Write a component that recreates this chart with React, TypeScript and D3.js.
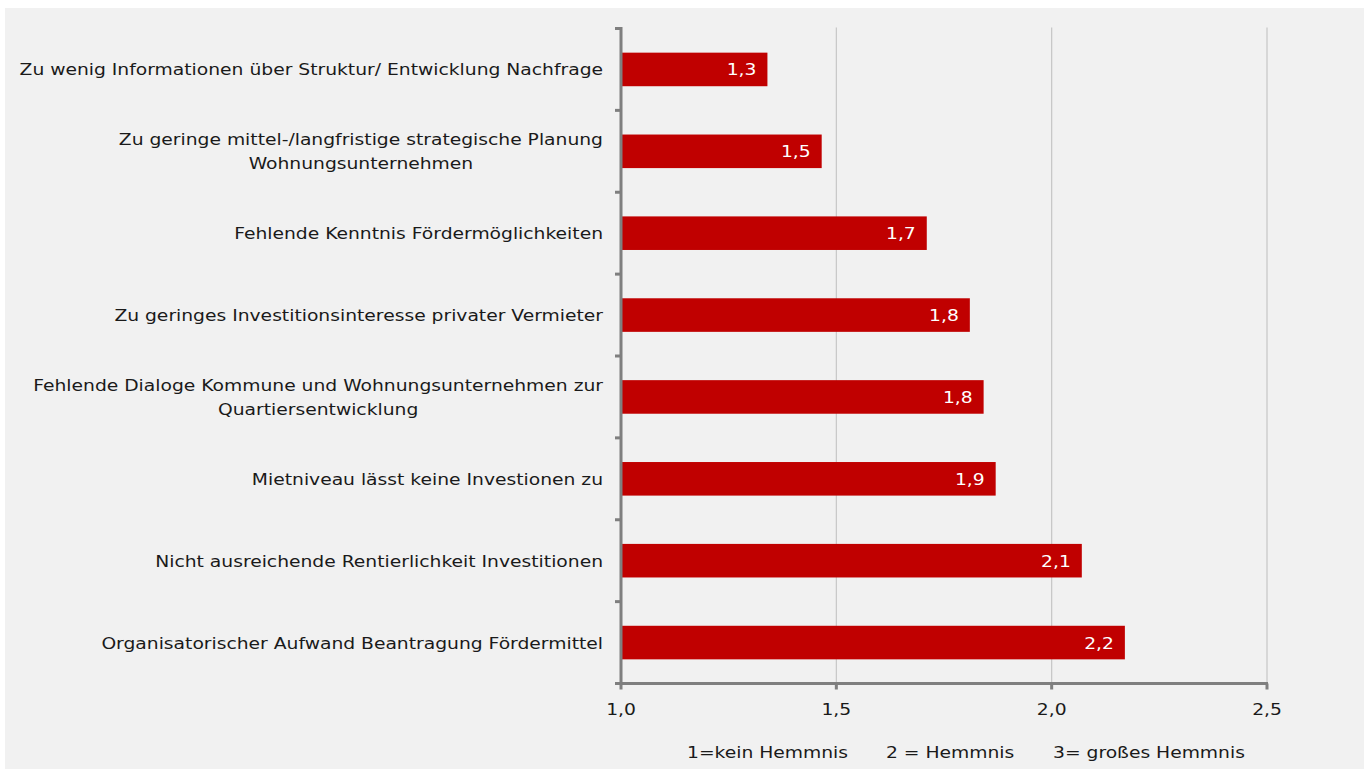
import { useEffect, useRef } from 'react';
import * as d3 from 'd3';

const categories = [
  ['Zu wenig Informationen über Struktur/ Entwicklung Nachfrage'],
  ['Zu geringe mittel-/langfristige strategische Planung', 'Wohnungsunternehmen'],
  ['Fehlende Kenntnis Fördermöglichkeiten'],
  ['Zu geringes Investitionsinteresse privater Vermieter'],
  ['Fehlende Dialoge Kommune und Wohnungsunternehmen zur', 'Quartiersentwicklung'],
  ['Mietniveau lässt keine Investionen zu'],
  ['Nicht ausreichende Rentierlichkeit Investitionen'],
  ['Organisatorischer Aufwand Beantragung Fördermittel'],
];
const values = [1.34, 1.466, 1.71, 1.81, 1.842, 1.87, 2.07, 2.17];
const xTicks = [1.0, 1.5, 2.0, 2.5];
const legendItems = ['1=kein Hemmnis', '2 = Hemmnis', '3= großes Hemmnis'];

const W = 1366;
const H = 769;
const FONT = 'Verdana, "DejaVu Sans", sans-serif';
const FS = '16.5px';
const SX = 1.135; // the reference text runs wider than DejaVu Sans

const App = () => {
  const svgRef = useRef<SVGSVGElement>(null);

  useEffect(() => {
    if (!svgRef.current) return;
    const svg = d3.select(svgRef.current);
    svg.selectAll('*').remove();

    // helper: text at (x, y), stretched horizontally around its anchor
    const addText = (
      parent: d3.Selection<any, any, any, any>,
      tx: number,
      ty: number,
      str: string,
      anchor: string,
      fill = '#1a1a1a'
    ) =>
      parent.append('text')
        .attr('transform', `translate(${tx},${ty}) scale(${SX},1)`)
        .attr('dy', '0.36em')
        .attr('text-anchor', anchor)
        .attr('fill', fill)
        .style('font-family', FONT)
        .style('font-size', FS)
        .text(str);

    // background panel
    svg.append('rect').attr('width', W).attr('height', H).attr('fill', '#ffffff');
    svg.append('rect')
      .attr('x', 5).attr('y', 8).attr('width', W - 7).attr('height', H - 8)
      .attr('fill', '#f1f1f1');

    const left = 621;
    const right = 1267;
    const top = 28.5;
    const bottom = 683.5;

    const x = d3.scaleLinear().domain([1, 2.5]).range([left, right]);
    const y = d3.scaleBand<number>()
      .domain(d3.range(categories.length))
      .range([top, bottom])
      .paddingInner(0.59)
      .paddingOuter(0.295);
    const band = d3.scaleBand<number>().domain(d3.range(categories.length)).range([top, bottom]);

    // gridlines
    svg.append('g')
      .selectAll('line')
      .data(xTicks.slice(1))
      .enter()
      .append('line')
      .attr('x1', d => x(d)).attr('x2', d => x(d))
      .attr('y1', top - 1).attr('y2', bottom)
      .attr('stroke', '#c6c6c6')
      .attr('stroke-width', 1.2);

    // bars
    svg.append('g')
      .selectAll('rect')
      .data(values)
      .enter()
      .append('rect')
      .attr('x', x(1))
      .attr('y', (_, i) => y(i) as number)
      .attr('width', d => x(d) - x(1))
      .attr('height', y.bandwidth())
      .attr('fill', '#c00000');

    // value labels
    const valG = svg.append('g');
    values.forEach((d, i) => {
      addText(valG, x(d) - 11, (y(i) as number) + y.bandwidth() / 2,
        d3.format('.1f')(d).replace('.', ','), 'end', '#ffffff');
    });

    // y axis
    const yAxis = svg.append('g');
    yAxis.append('line')
      .attr('x1', left).attr('x2', left)
      .attr('y1', top - 1.5).attr('y2', bottom)
      .attr('stroke', '#7f7f7f').attr('stroke-width', 3);
    yAxis.selectAll('.tick')
      .data(d3.range(categories.length + 1))
      .enter()
      .append('line')
      .attr('x1', left - 6).attr('x2', left)
      .attr('y1', d => top + d * band.bandwidth())
      .attr('y2', d => top + d * band.bandwidth())
      .attr('stroke', '#7f7f7f').attr('stroke-width', 3);

    // x axis
    const xAxis = svg.append('g');
    xAxis.append('line')
      .attr('x1', left - 1.5).attr('x2', right + 1)
      .attr('y1', bottom).attr('y2', bottom)
      .attr('stroke', '#7f7f7f').attr('stroke-width', 3);
    xAxis.selectAll('.tick')
      .data(xTicks)
      .enter()
      .append('line')
      .attr('x1', d => x(d)).attr('x2', d => x(d))
      .attr('y1', bottom).attr('y2', bottom + 6)
      .attr('stroke', '#7f7f7f').attr('stroke-width', 3);
    xTicks.forEach(t => {
      addText(xAxis, x(t), 709, d3.format('.1f')(t).replace('.', ','), 'middle');
    });

    // category labels: block right aligned, lines centred
    const labelRight = 603;
    const lineH = 24;
    const labels = svg.append('g');
    categories.forEach((lines, i) => {
      const cy = (band(i) as number) + band.bandwidth() / 2;
      const g = labels.append('g');
      const texts = lines.map((line, j) =>
        addText(g, 0, cy + (j - (lines.length - 1) / 2) * lineH, line, 'middle')
      );
      const maxW = (d3.max(texts, t => (t.node() as SVGTextElement).getComputedTextLength()) as number) * SX;
      texts.forEach((t, j) =>
        t.attr('transform',
          `translate(${labelRight - maxW / 2},${cy + (j - (lines.length - 1) / 2) * lineH}) scale(${SX},1)`)
      );
    });

    // legend text
    const legendX = [687, 886, 1053];
    const legG = svg.append('g');
    legendItems.forEach((d, i) => addText(legG, legendX[i], 752, d, 'start'));
  }, []);

  return (
    <svg
      ref={svgRef}
      width={W}
      height={H}
      style={{ position: 'absolute', left: 0, top: 0, display: 'block' }}
    />
  );
};

export default App;
